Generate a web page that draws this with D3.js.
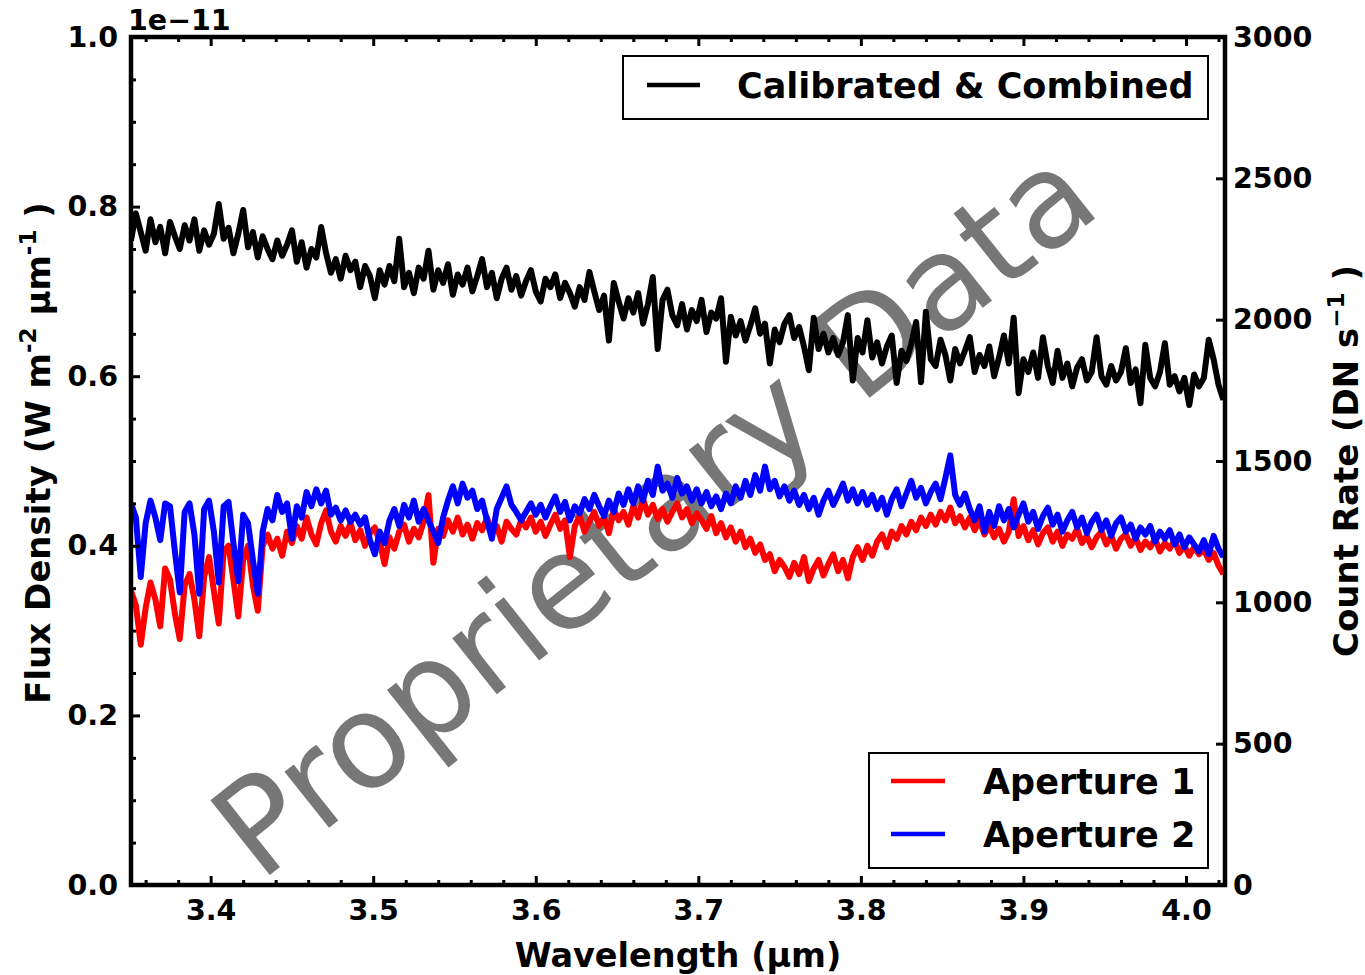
<!DOCTYPE html>
<html>
<head>
<meta charset="utf-8">
<script src="https://cdn.jsdelivr.net/npm/d3@7"></script>
<style>
  body { margin: 0; background: #fff; }
  svg text { font-family: "DejaVu Sans", sans-serif; font-weight: bold; }
</style>
</head>
<body>
<div id="chart"></div>
<script>
// wavelength grid (um) shared by all spectra
var waveStart = 3.351;
var waveEnd = 4.023;

// calibrated & combined flux density, units of 1e-11 W m-2 um-1
var combinedFlux = [
  0.760, 0.792, 0.770, 0.748, 0.785, 0.758, 0.776, 0.745, 0.782, 0.765,
  0.750, 0.778, 0.760, 0.785, 0.748, 0.772, 0.755, 0.768, 0.803, 0.762,
  0.775, 0.745, 0.768, 0.796, 0.752, 0.770, 0.740, 0.765, 0.750, 0.738,
  0.760, 0.742, 0.755, 0.772, 0.735, 0.758, 0.728, 0.750, 0.740, 0.776,
  0.745, 0.722, 0.738, 0.715, 0.742, 0.725, 0.735, 0.705, 0.730, 0.718,
  0.692, 0.725, 0.708, 0.730, 0.712, 0.762, 0.705, 0.722, 0.698, 0.728,
  0.715, 0.748, 0.702, 0.725, 0.710, 0.732, 0.696, 0.720, 0.708, 0.728,
  0.700, 0.718, 0.738, 0.705, 0.722, 0.692, 0.715, 0.728, 0.702, 0.718,
  0.695, 0.712, 0.725, 0.700, 0.688, 0.715, 0.705, 0.720, 0.692, 0.710,
  0.698, 0.682, 0.705, 0.690, 0.723, 0.700, 0.678, 0.695, 0.642, 0.710,
  0.688, 0.668, 0.692, 0.675, 0.698, 0.662, 0.685, 0.717, 0.632, 0.690,
  0.702, 0.672, 0.660, 0.685, 0.655, 0.678, 0.665, 0.690, 0.652, 0.675,
  0.668, 0.692, 0.617, 0.670, 0.648, 0.665, 0.642, 0.660, 0.680, 0.650,
  0.662, 0.615, 0.655, 0.640, 0.662, 0.672, 0.645, 0.658, 0.635, 0.607,
  0.669, 0.632, 0.650, 0.628, 0.645, 0.625, 0.640, 0.672, 0.595, 0.645,
  0.628, 0.666, 0.622, 0.640, 0.615, 0.635, 0.648, 0.592, 0.630, 0.618,
  0.638, 0.664, 0.593, 0.676, 0.620, 0.612, 0.643, 0.625, 0.595, 0.632,
  0.615, 0.630, 0.646, 0.605, 0.625, 0.612, 0.635, 0.600, 0.622, 0.648,
  0.615, 0.669, 0.580, 0.620, 0.605, 0.628, 0.598, 0.646, 0.612, 0.592,
  0.630, 0.598, 0.615, 0.588, 0.610, 0.620, 0.595, 0.605, 0.646, 0.600,
  0.590, 0.612, 0.595, 0.605, 0.633, 0.592, 0.608, 0.568, 0.637, 0.598,
  0.588, 0.605, 0.639, 0.590, 0.600, 0.582, 0.598, 0.566, 0.602, 0.588,
  0.598, 0.643, 0.620, 0.590, 0.572
];

// aperture count rates, DN s-1
var aperture1 = [
  1040, 990, 850, 980, 1070, 1010, 915, 1120, 1080, 960,
  870, 1060, 1100, 1010, 880, 1090, 1160, 1040, 925, 1180,
  1200, 1080, 950, 1150, 1200, 1060, 970, 1200, 1240, 1190,
  1225, 1165, 1250, 1210, 1270, 1225, 1300, 1240, 1205, 1280,
  1325, 1250, 1215, 1270, 1235, 1280, 1220, 1255, 1200, 1245,
  1265, 1215, 1135, 1230, 1190, 1250, 1275, 1215, 1260, 1230,
  1285, 1380, 1140, 1260, 1235, 1290, 1250, 1300, 1240, 1275,
  1225, 1280, 1255, 1300, 1245, 1270, 1215, 1285, 1260, 1240,
  1290, 1265, 1300, 1250, 1285, 1235, 1275, 1310, 1260, 1290,
  1160, 1270, 1305, 1250, 1285, 1320, 1270, 1300, 1245, 1330,
  1290, 1320, 1275, 1340, 1300, 1365, 1310, 1345, 1295, 1330,
  1285, 1320, 1350, 1300, 1330, 1280, 1315, 1290, 1260, 1305,
  1245, 1280, 1230, 1265, 1215, 1250, 1195, 1225, 1175, 1205,
  1150, 1170, 1110, 1150, 1125, 1090, 1140, 1100, 1160, 1075,
  1120, 1150, 1095, 1135, 1170, 1110, 1150, 1085, 1160, 1195,
  1150, 1200, 1165, 1215, 1240, 1195, 1250, 1225, 1270, 1240,
  1285, 1255, 1300, 1270, 1310, 1275, 1320, 1290, 1335, 1280,
  1305, 1265, 1300, 1255, 1290, 1240, 1270, 1230, 1260, 1215,
  1250, 1365, 1235, 1270, 1220, 1255, 1205, 1245, 1265, 1215,
  1250, 1200, 1240, 1225, 1260, 1210, 1235, 1195, 1230, 1250,
  1205, 1235, 1190, 1225, 1240, 1200, 1230, 1185, 1215, 1195,
  1225, 1180, 1210, 1190, 1220, 1175, 1200, 1165, 1195, 1170,
  1185, 1150, 1175, 1130, 1100
];

var aperture2 = [
  1350, 1300, 1090, 1280, 1360, 1300, 1220, 1350, 1340, 1180,
  1035, 1320, 1350, 1240, 1030, 1330, 1360, 1250, 1070, 1340,
  1355, 1210, 1075, 1310, 1280, 1150, 1030, 1250, 1330, 1290,
  1380, 1320, 1350, 1225, 1340, 1300, 1390, 1340, 1400, 1350,
  1395, 1310, 1335, 1290, 1325, 1285, 1310, 1275, 1300, 1220,
  1170, 1250, 1210, 1290, 1330, 1270, 1345, 1300, 1360, 1285,
  1330, 1290, 1250, 1210, 1300, 1360, 1410, 1350, 1420, 1370,
  1395, 1330, 1360, 1290, 1225, 1330, 1370, 1410, 1345, 1320,
  1290, 1320, 1350, 1310, 1345, 1300, 1340, 1375, 1320, 1355,
  1290, 1340, 1315, 1365, 1330, 1380, 1340, 1305, 1360, 1320,
  1385, 1345, 1400, 1350, 1410, 1360, 1430, 1380, 1480, 1395,
  1420, 1370, 1440, 1385, 1410, 1360, 1400, 1350, 1390, 1340,
  1375, 1330, 1385, 1350, 1410, 1370, 1430, 1380, 1450, 1395,
  1480, 1400, 1430, 1375, 1410, 1360, 1395, 1345, 1380, 1330,
  1370, 1310, 1360, 1395, 1345, 1380, 1420, 1360, 1400, 1350,
  1390, 1345, 1380, 1330, 1370, 1310, 1365, 1400, 1340, 1385,
  1430, 1370, 1405, 1350, 1390, 1420, 1365, 1440, 1520, 1380,
  1345, 1385, 1330, 1290, 1340, 1250, 1320, 1270, 1340, 1290,
  1330, 1265, 1310, 1350, 1285, 1320, 1260, 1305, 1335, 1275,
  1310, 1250, 1290, 1320, 1265, 1300, 1245, 1285, 1310, 1255,
  1290, 1235, 1280, 1300, 1250, 1275, 1225, 1265, 1240, 1270,
  1215, 1250, 1225, 1255, 1205, 1240, 1195, 1230, 1205, 1180,
  1220, 1170, 1235, 1190, 1160
];

var waveTicks = [3.4, 3.5, 3.6, 3.7, 3.8, 3.9, 4.0];
var waveMinorTicks = [3.36, 3.38, 3.42, 3.44, 3.46, 3.48, 3.52, 3.54, 3.56, 3.58,
  3.62, 3.64, 3.66, 3.68, 3.72, 3.74, 3.76, 3.78, 3.82, 3.84, 3.86, 3.88,
  3.92, 3.94, 3.96, 3.98, 4.02];
var fluxTicks = [0.0, 0.2, 0.4, 0.6, 0.8, 1.0];
var fluxMinorTicks = [0.05, 0.1, 0.15, 0.25, 0.3, 0.35, 0.45, 0.5, 0.55,
  0.65, 0.7, 0.75, 0.85, 0.9, 0.95];
var countTicks = [0, 500, 1000, 1500, 2000, 2500, 3000];

var svgWidth = 1365;
var svgHeight = 975;

var margin = {
  top: 37,
  right: 140,
  bottom: 90,
  left: 131
};

var width = svgWidth - margin.left - margin.right;
var height = svgHeight - margin.top - margin.bottom;

var svg = d3.select("#chart")
  .append("svg")
  .attr("width", svgWidth)
  .attr("height", svgHeight);

var chartGroup = svg.append("g")
  .attr("transform", `translate(${margin.left}, ${margin.top})`);

/********************************************************/

var xScale = d3.scaleLinear()
  .domain([3.351, 4.024])
  .range([0, width]);

var yFlux = d3.scaleLinear()
  .domain([0, 1])
  .range([height, 0]);

var yCount = d3.scaleLinear()
  .domain([0, 3000])
  .range([height, 0]);

function toPoints(values) {
  var step = (waveEnd - waveStart) / (values.length - 1);
  return values.map((v, i) => ({ w: waveStart + i * step, v: v }));
}

/********************************************************/

chartGroup.append("clipPath")
  .attr("id", "plotClip")
  .append("rect")
  .attr("width", width)
  .attr("height", height);

// watermark sits under the spectra
chartGroup.append("text")
  .attr("transform", `translate(${682 - margin.left}, ${547 - margin.top}) rotate(-38.5)`)
  .attr("text-anchor", "middle")
  .style("font-weight", "normal")
  .attr("font-size", 131)
  .attr("fill", "#777777")
  .text("Proprietary Data");

var plot = chartGroup.append("g").attr("clip-path", "url(#plotClip)");

var fluxLine = d3.line()
  .x(d => xScale(d.w))
  .y(d => yFlux(d.v));

var countLine = d3.line()
  .x(d => xScale(d.w))
  .y(d => yCount(d.v));

plot.append("path")
  .datum(toPoints(aperture1))
  .attr("d", countLine)
  .attr("fill", "none")
  .attr("stroke", "#ff0000")
  .attr("stroke-width", 6)
  .attr("stroke-linejoin", "round");

plot.append("path")
  .datum(toPoints(aperture2))
  .attr("d", countLine)
  .attr("fill", "none")
  .attr("stroke", "#0000ff")
  .attr("stroke-width", 6)
  .attr("stroke-linejoin", "round");

plot.append("path")
  .datum(toPoints(combinedFlux))
  .attr("d", fluxLine)
  .attr("fill", "none")
  .attr("stroke", "#000000")
  .attr("stroke-width", 6)
  .attr("stroke-linejoin", "round");

/********************************************************/

function styleAxis(g) {
  g.select(".domain").remove();
  g.selectAll(".tick line").attr("stroke", "#000").attr("stroke-width", 3);
  g.selectAll(".tick text").attr("font-size", 28.5).attr("fill", "#000");
}

chartGroup.append("g")
  .attr("transform", `translate(0, ${height})`)
  .call(d3.axisBottom(xScale).tickValues(waveTicks).tickSize(-9).tickPadding(15)
    .tickFormat(d3.format(".1f")))
  .call(styleAxis);

chartGroup.append("g")
  .attr("transform", `translate(0, ${height})`)
  .call(d3.axisBottom(xScale).tickValues(waveMinorTicks).tickSize(-5).tickFormat(""))
  .call(styleAxis);

chartGroup.append("g")
  .call(d3.axisTop(xScale).tickValues(waveTicks).tickSize(-9).tickFormat(""))
  .call(styleAxis);

chartGroup.append("g")
  .call(d3.axisTop(xScale).tickValues(waveMinorTicks).tickSize(-5).tickFormat(""))
  .call(styleAxis);

chartGroup.append("g")
  .call(d3.axisLeft(yFlux).tickValues(fluxTicks).tickSize(-9).tickPadding(13)
    .tickFormat(d3.format(".1f")))
  .call(styleAxis);

chartGroup.append("g")
  .call(d3.axisLeft(yFlux).tickValues(fluxMinorTicks).tickSize(-5).tickFormat(""))
  .call(styleAxis);

chartGroup.append("g")
  .attr("transform", `translate(${width}, 0)`)
  .call(d3.axisRight(yCount).tickValues(countTicks).tickSize(-9).tickPadding(8)
    .tickFormat(d3.format("d")))
  .call(styleAxis);

// frame
chartGroup.append("rect")
  .attr("width", width)
  .attr("height", height)
  .attr("fill", "none")
  .attr("stroke", "#000")
  .attr("stroke-width", 4.5);

// offset text
chartGroup.append("text")
  .attr("x", -3)
  .attr("y", -7)
  .attr("font-size", 28.5)
  .text("1e\u221211");

/********************************************************/

chartGroup.append("text")
  .attr("x", width / 2)
  .attr("y", height + 82)
  .attr("text-anchor", "middle")
  .attr("font-size", 33.5)
  .text("Wavelength (\u03bcm)");

var leftLabel = chartGroup.append("text")
  .attr("transform", `translate(${50 - margin.left}, ${453 - margin.top}) rotate(-90)`)
  .attr("text-anchor", "middle")
  .attr("font-size", 34);
leftLabel.append("tspan").text("Flux Density (W m");
leftLabel.append("tspan").attr("font-size", 23).attr("dy", -14).text("-2");
leftLabel.append("tspan").attr("dy", 14).text(" \u03bcm");
leftLabel.append("tspan").attr("font-size", 23).attr("dy", -14).text("-1");
leftLabel.append("tspan").attr("dy", 14).text(" )");

var rightLabel = chartGroup.append("text")
  .attr("transform", `translate(${1358 - margin.left}, ${461 - margin.top}) rotate(-90)`)
  .attr("text-anchor", "middle")
  .attr("font-size", 34);
rightLabel.append("tspan").text("Count Rate (DN s");
rightLabel.append("tspan").attr("font-size", 23).attr("dy", -14).text("\u22121");
rightLabel.append("tspan").attr("dy", 14).text(" )");

/********************************************************/

var legendTop = svg.append("g");
legendTop.append("rect")
  .attr("x", 623).attr("y", 56).attr("width", 585).attr("height", 63)
  .attr("fill", "#fff").attr("stroke", "#000").attr("stroke-width", 2);
legendTop.append("line")
  .attr("x1", 647).attr("x2", 700).attr("y1", 85).attr("y2", 85)
  .attr("stroke", "#000").attr("stroke-width", 4.5);
legendTop.append("text")
  .attr("x", 737).attr("y", 98)
  .attr("font-size", 35)
  .text("Calibrated & Combined");

var apertures = [
  { name: "Aperture 1", color: "#ff0000" },
  { name: "Aperture 2", color: "#0000ff" }
];

var legendBottom = svg.append("g");
legendBottom.append("rect")
  .attr("x", 869).attr("y", 753).attr("width", 339).attr("height", 115)
  .attr("fill", "#fff").attr("stroke", "#000").attr("stroke-width", 2);
legendBottom.selectAll("line")
  .data(apertures)
  .enter()
  .append("line")
  .attr("x1", 891).attr("x2", 945)
  .attr("y1", (d, i) => 781 + i * 53).attr("y2", (d, i) => 781 + i * 53)
  .attr("stroke", d => d.color).attr("stroke-width", 4.5);
legendBottom.selectAll("text")
  .data(apertures)
  .enter()
  .append("text")
  .attr("x", 983)
  .attr("y", (d, i) => 794 + i * 53)
  .attr("font-size", 35)
  .text(d => d.name);
</script>
</body>
</html>
